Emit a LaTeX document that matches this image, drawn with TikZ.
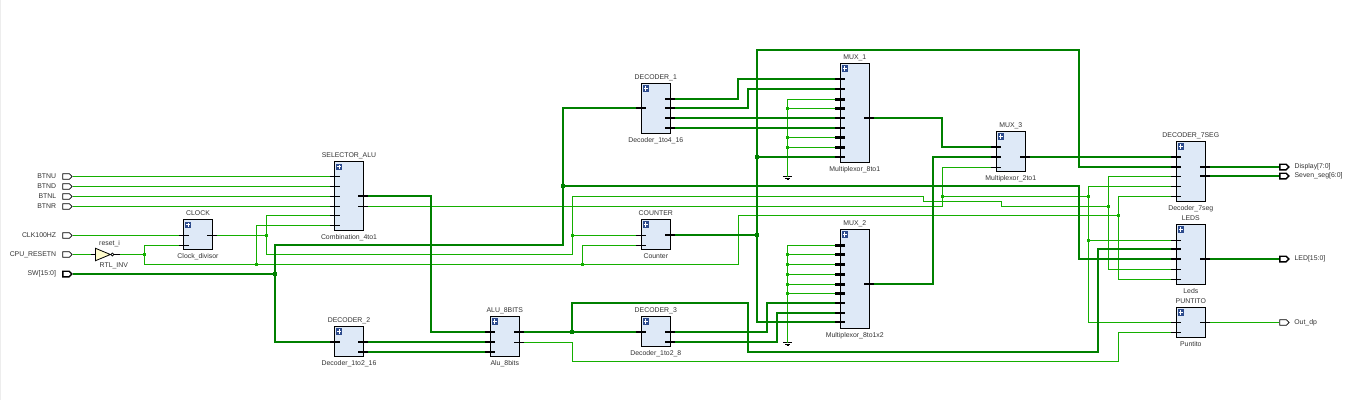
\documentclass[tikz,border=0pt]{standalone}
\usepackage{fontspec}
\setmainfont{Liberation Sans}
\usetikzlibrary{shapes.geometric,shapes.symbols}

\definecolor{busgreen}{RGB}{0,128,0}
\definecolor{wiregreen}{RGB}{20,175,0}
\definecolor{blockfill}{RGB}{222,233,247}
\definecolor{plusblue}{RGB}{45,75,140}

\tikzstyle{block} = [draw=black, fill=blockfill, line width=0.9pt, rectangle,
  minimum width=29pt, inner sep=0pt]
\tikzstyle{blocktxt} = [font=\fontsize{6.9}{8}\selectfont, text=black!80, inner sep=0pt,
  text height=5pt, text depth=1.5pt]
\tikzstyle{plusicon} = [rectangle, fill=plusblue, minimum size=6.4pt, inner sep=0pt,
  path picture={\draw[white, line width=1pt]
    ([xshift=1pt]path picture bounding box.west) -- ([xshift=-1pt]path picture bounding box.east)
    ([yshift=1pt]path picture bounding box.south) -- ([yshift=-1pt]path picture bounding box.north);}]
\tikzstyle{inport} = [draw=black, fill=white, line width=0.7pt, signal, signal to=east,
  signal from=nowhere, minimum width=9.4pt, minimum height=5.6pt, inner sep=0pt]
\tikzstyle{busport} = [inport, line width=1.4pt, minimum width=9pt, minimum height=5.6pt]
\tikzstyle{wire} = [draw=wiregreen, line width=1pt]
\tikzstyle{buswire} = [draw=busgreen, line width=2pt]
\tikzstyle{stub} = [draw=black, line width=0.9pt]
\tikzstyle{busstub} = [draw=black, line width=2.2pt]
\tikzstyle{dot} = [rectangle, fill=wiregreen, minimum size=3pt, inner sep=0pt]
\tikzstyle{busdot} = [rectangle, fill=busgreen, minimum size=4pt, inner sep=0pt]
\tikzset{gnd/.pic={
  \draw[black, line width=0.8pt] (-4.5,0) -- (4.5,0) (-2.5,1.7) -- (2.5,1.7) (-1,3.2) -- (1,3.2);
}}

% name, x, y, height, title, caption
\newcommand{\blockbox}[6]{
  \node [block, minimum height=#4pt, label={[blocktxt, label distance=2pt]above:#5},
    label={[blocktxt, label distance=3.3pt]below:#6}] (#1) at (#2,#3) {};
  \node [plusicon] (#1plus) at ([xshift=5pt,yshift=-5.8pt]#1.north west) {};
}
% pin name, block, y (the name is the outer end of the stub)
\newcommand{\pinin}[4][stub]{
  \coordinate[xshift=-4.5pt] (#2) at (#3.west |- 0,#4);
  \draw[#1] (#2) -- ++(10,0);
}
\newcommand{\pinout}[4][stub]{
  \coordinate[xshift=4.5pt] (#2) at (#3.east |- 0,#4);
  \draw[#1] (#2) -- ++(-10,0);
}

\begin{document}
\begin{tikzpicture}[x=1pt,y=-1pt]
  \useasboundingbox (0,0) rectangle (1352,400);
  \fill[black!7] (0,0) rectangle (1.2,400);

  % blocks
  \blockbox{sel}{349}{196}{69}{SELECTOR\_ALU}{Combination\_4to1}
  \blockbox{clock}{198}{234.5}{30}{CLOCK}{Clock\_divisor}
  \blockbox{dec2}{349}{341.3}{30}{DECODER\_2}{Decoder\_1to2\_16}
  \blockbox{counter}{655.8}{234.3}{30}{COUNTER}{Counter}
  \blockbox{alu}{504.8}{336.3}{40}{ALU\_8BITS}{Alu\_8bits}
  \blockbox{dec3}{655.8}{331.3}{30}{DECODER\_3}{Decoder\_1to2\_8}
  \blockbox{dec1}{655.8}{108.3}{50}{DECODER\_1}{Decoder\_1to4\_16}
  \blockbox{mux1}{854.8}{112.8}{99}{MUX\_1}{Multiplexor\_8to1}
  \blockbox{mux2}{854.8}{278.8}{99}{MUX\_2}{Multiplexor\_8to1x2}
  \blockbox{mux3}{1010.8}{151.3}{40}{MUX\_3}{Multiplexor\_2to1}
  \blockbox{dec7}{1190.8}{171.3}{60}{DECODER\_7SEG}{Decoder\_7seg}
  \blockbox{leds}{1190.8}{254.3}{60}{LEDS}{Leds}
  \blockbox{puntito}{1190.8}{322.3}{30}{PUNTITO}{Puntito}

  % pins
  \foreach \n/\y in {1/176.5,2/186.5,3/196.5,4/206.5,5/215.5,6/225.5} \pinin{seli\n}{sel}{\y};
  \pinout[busstub]{selo1}{sel}{196}
  \pinout{selo2}{sel}{206.5}
  \foreach \n/\y in {1/235.5,2/245.5} \pinin{clocki\n}{clock}{\y};
  \pinout{clocko1}{clock}{235.5}
  \foreach \n/\y in {1/235.5,2/245.5} \pinin{counteri\n}{counter}{\y};
  \pinout[busstub]{countero1}{counter}{235}
  \pinin[busstub]{dec2i1}{dec2}{342}
  \foreach \n/\y in {1/342,2/352} \pinout[busstub]{dec2o\n}{dec2}{\y};
  \foreach \n/\y in {1/332,2/342,3/352} \pinin[busstub]{alui\n}{alu}{\y};
  \pinout[busstub]{aluo1}{alu}{332}
  \pinout{aluo2}{alu}{342.5}
  \pinin[busstub]{dec3i1}{dec3}{332}
  \foreach \n/\y in {1/332,2/342} \pinout[busstub]{dec3o\n}{dec3}{\y};
  \pinin[busstub]{dec1i1}{dec1}{108}
  \foreach \n/\y in {1/99,2/108,3/118,4/128} \pinout[busstub]{dec1o\n}{dec1}{\y};
  \foreach \n/\y in {1/79,2/89,5/118,6/128,9/157} \pinin[busstub]{mux1i\n}{mux1}{\y};
  \foreach \n/\y in {3/99.5,4/108.5,7/137.5,8/147.5} \pinin[busstub]{mux1i\n}{mux1}{\y};
  \pinout[busstub]{mux1o1}{mux1}{118}
  \foreach \n/\y in {1/245.5,2/254.5,3/264.5,4/274.5,5/284.5,6/293.5,7/303,8/313,9/322} \pinin[busstub]{mux2i\n}{mux2}{\y};
  \pinout[busstub]{mux2o1}{mux2}{284}
  \foreach \n/\y in {1/147,2/157} \pinin[busstub]{mux3i\n}{mux3}{\y};
  \pinin{mux3i3}{mux3}{167.5}
  \pinout[busstub]{mux3o1}{mux3}{157}
  \foreach \n/\y in {1/157,2/167} \pinin[busstub]{dec7i\n}{dec7}{\y};
  \foreach \n/\y in {3/176.5,4/186.5,5/196.5} \pinin{dec7i\n}{dec7}{\y};
  \foreach \n/\y in {1/167,2/176} \pinout[busstub]{dec7o\n}{dec7}{\y};
  \foreach \n/\y in {1/240.5,4/269.5,5/279.5} \pinin{ledsi\n}{leds}{\y};
  \foreach \n/\y in {2/249,3/259} \pinin[busstub]{ledsi\n}{leds}{\y};
  \pinout[busstub]{ledso1}{leds}{259}
  \foreach \n/\y in {1/322.5,2/332.5} \pinin{puntitoi\n}{puntito}{\y};
  \pinout{puntitoo1}{puntito}{322.5}

  % ports
  \foreach \n/\y/\t in {btnu/176.5/BTNU,btnd/186.5/BTND,btnl/196.5/BTNL,btnr/206.5/BTNR,
      clkport/235.5/CLK100HZ,rstport/254.5/CPU\_RESETN}
    \node [inport, label={[blocktxt, label distance=6pt]left:\t}] (\n) at (66,\y) {};
  \node [busport, label={[blocktxt, label distance=6pt]left:SW[15:0]}] (swport) at (66,274) {};
  \node [busport, label={[blocktxt, label distance=4.5pt]right:Display[7:0]}] (dispport) at (1283,167) {};
  \node [busport, label={[blocktxt, label distance=4.5pt]right:Seven\_seg[6:0]}] (segport) at (1283,176) {};
  \node [busport, label={[blocktxt, label distance=4.5pt]right:LED[15:0]}] (ledport) at (1283,259) {};
  \node [inport, label={[blocktxt, label distance=4.5pt]right:Out\_dp}] (dpport) at (1283,322.5) {};

  % inverter
  \coordinate (invi) at (91,254.5);
  \coordinate (invo) at (120,254.5);
  \draw[stub] (invi) -- ++(6,0);
  \draw[stub] (invo) -- ++(-8,0);
  \node [isosceles triangle, draw=black, fill=yellow!20, line width=0.8pt, inner sep=0pt,
    isosceles triangle stretches, minimum width=12.5pt, minimum height=15pt, anchor=west,
    label={[blocktxt, label distance=2pt, xshift=10pt]above:reset\_i},
    label={[blocktxt, label distance=3pt, xshift=14.3pt]below:RTL\_INV}] (inv) at (95,254.5) {};
  \node [circle, draw=black, fill=white, line width=0.7pt, inner sep=0pt, minimum size=3pt] (invb) at (112.3,254.5) {};

  % junctions
  \node [dot] (jrst) at (144.5,254.5) {};
  \node [dot] (jrst2) at (256.5,264.5) {};
  \node [dot] (jrst3) at (582.5,264.5) {};
  \node [dot] (jclk) at (266.5,235.5) {};
  \node [dot] (jclk2) at (572.5,235.5) {};
  \node [dot] (jled) at (1118.5,215.5) {};
  \node [dot] (jdig) at (1108.5,206.5) {};
  \node [dot] (jsel) at (942.5,196.5) {};
  \node [dot] (jdp) at (1088.5,196.5) {};
  \node [dot] (jdp2) at (1088.5,240.5) {};
  \node [busdot] (jsw) at (275,274) {};
  \node [busdot] (jdec) at (563,186) {};
  \node [busdot] (jmux) at (757,157) {};
  \node [busdot] (jcnt) at (757,235) {};
  \node [busdot] (jalu) at (572,332) {};
  \coordinate (gnd1) at (787.5,176.5);
  \coordinate (gnd2) at (787.5,342.5);
  \foreach \n/\y in {1/108.5,2/137.5,3/147.5} \node [dot] (jm1\n) at (787.5,\y) {};
  \foreach \n/\y in {1/254.5,2/264.5,3/274.5,4/284.5,5/293.5} \node [dot] (jm2\n) at (787.5,\y) {};
  \pic (gndsym1) at (gnd1) {gnd};
  \pic (gndsym2) at (gnd2) {gnd};

  % thin nets
  \foreach \a/\b in {btnu/1,btnd/2,btnl/3,btnr/4} \draw[wire] (\a.east) -- (seli\b);
  \draw[wire] (clkport.east) -- (clocki1);
  \draw[wire] (rstport.east) -- (invi);
  \draw[wire] (invo) -- (jrst);
  \draw[wire] (jrst) |- (clocki2);
  \draw[wire] (jrst) |- (jrst2);
  \draw[wire] (jrst2) |- (seli6);
  \draw[wire] (jrst2) -- (jrst3);
  \draw[wire] (jrst3) |- (counteri2);
  \draw[wire] (jrst3) -| (738.5,215.5) -- (jled);
  \draw[wire] (jled) |- (dec7i5);
  \draw[wire] (jled) |- (ledsi5);
  \draw[wire] (clocko1) -- (jclk);
  \draw[wire] (jclk) |- (seli5);
  \draw[wire] (jclk) |- (572.5,254.5) -- (jclk2);
  \draw[wire] (jclk2) -- (counteri1);
  \draw[wire] (jclk2) |- (923.5,196.5) |- (1001.5,201.5) |- (jdig);
  \draw[wire] (jdig) |- (dec7i3);
  \draw[wire] (jdig) |- (ledsi4);
  \draw[wire] (selo2) -| (jsel);
  \draw[wire] (jsel) |- (mux3i3);
  \draw[wire] (jsel) -- (jdp);
  \draw[wire] (jdp) |- (dec7i4);
  \draw[wire] (jdp) |- (puntitoi1);
  \draw[wire] (jdp2) -- (ledsi1);
  \draw[wire] (aluo2) -| (572.5,361.5) -| (1118.5,332.5) -- (puntitoi2);
  \draw[wire] (puntitoo1) -- (dpport.west);
  \draw[wire] (mux1i3) -| (gnd1);
  \foreach \n/\m in {1/4,2/7,3/8} \draw[wire] (jm1\n) -- (mux1i\m);
  \draw[wire] (mux2i1) -| (gnd2);
  \foreach \n/\m in {1/2,2/3,3/4,4/5,5/6} \draw[wire] (jm2\n) -- (mux2i\m);

  % bus nets
  \draw[buswire] (swport.east) -- (jsw);
  \draw[buswire] (jsw) |- (dec2i1);
  \draw[buswire] (jsw) |- (563,245) -- (jdec);
  \draw[buswire] (jdec) |- (dec1i1);
  \draw[buswire] (jdec) -| (1079,259) -- (ledsi3);
  \draw[buswire] (selo1) -| (431,332) -- (alui1);
  \draw[buswire] (dec2o1) -- (alui2);
  \draw[buswire] (dec2o2) -- (alui3);
  \draw[buswire] (aluo1) -- (dec3i1);
  \draw[buswire] (jalu) |- (748,303) |- (1098,352) |- (ledsi2);
  \draw[buswire] (dec3o1) -| (767,303) -- (mux2i7);
  \draw[buswire] (dec3o2) -| (777,313) -- (mux2i8);
  \draw[buswire] (countero1) -- (jcnt);
  \draw[buswire] (jcnt) -- (jmux);
  \draw[buswire] (jcnt) |- (mux2i9);
  \draw[buswire] (jmux) -- (mux1i9);
  \draw[buswire] (jmux) |- (1079,50) |- (dec7i2);
  \draw[buswire] (dec1o1) -| (738,79) -- (mux1i1);
  \draw[buswire] (dec1o2) -| (748,89) -- (mux1i2);
  \draw[buswire] (dec1o3) -- (mux1i5);
  \draw[buswire] (dec1o4) -- (mux1i6);
  \draw[buswire] (mux1o1) -| (942,147) -- (mux3i1);
  \draw[buswire] (mux2o1) -| (933,157) -- (mux3i2);
  \draw[buswire] (mux3o1) -- (dec7i1);
  \draw[buswire] (dec7o1) -- (dispport.west);
  \draw[buswire] (dec7o2) -- (segport.west);
  \draw[buswire] (ledso1) -- (ledport.west);
\end{tikzpicture}
\end{document}
